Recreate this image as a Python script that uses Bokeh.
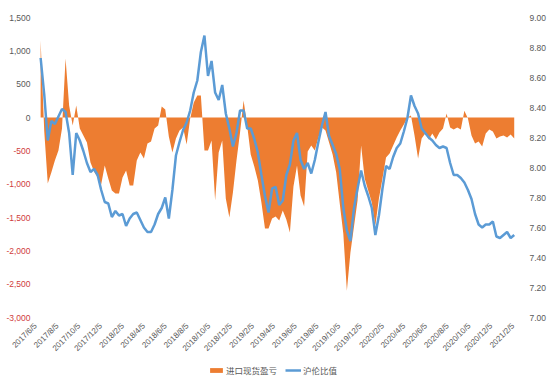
import math
import pandas as pd
from bokeh.plotting import figure
from bokeh.models import (Range1d, LinearAxis, FixedTicker, Legend, LegendItem,
                          NumeralTickFormatter)
from bokeh.core.properties import value
from bokeh.embed import file_html
from bokeh.resources import INLINE

# ---------------- data ----------------
start_date = "2017-06-05"
step = "10D"

# 进口现货盈亏 (left axis)
pnl = [1155, -195, -990, -825, -645, -495, -165, 885, 180, -120,
       180, -165, -270, -375, -675, -810, -900, -1005, -720, -915,
       -1095, -1140, -1140, -900, -795, -1020, -1020, -645, -525, -615,
       -390, -360, -165, -120, 165, 120, -285, -525, -315, -195,
       -150, -405, -15, 225, 330, 330, -495, -495, -345, -1245,
       -525, -345, -1215, -1500, -1125, -645, -225, 255, -120, -555,
       -735, -945, -1275, -1665, -1665, -1515, -1485, -1545, -1395, -1530,
       -1725, -1035, -720, -1170, -1335, -510, -420, -495, -300, -150,
       -195, -375, -555, -825, -1290, -1740, -2600, -2025, -1635, -1245,
       -420, -915, -1095, -1275, -1620, -1215, -915, -600, -540, -420,
       -300, -195, -105, 0, 30, -270, -615, -315, -240, -330,
       -240, -330, -225, -165, 60, -150, -180, -150, -180, 100,
       -15, -270, -390, -360, -435, -240, -180, -210, -315, -285,
       -270, -300, -255, -315]

# 沪伦比值 (right axis)
ratio = [8.73, 8.49, 8.18, 8.31, 8.29, 8.34, 8.39, 8.37, 8.23, 7.95,
         8.23, 8.18, 8.11, 8.03, 7.97, 7.99, 7.95, 7.85, 7.77, 7.76,
         7.67, 7.71, 7.68, 7.69, 7.61, 7.66, 7.69, 7.70, 7.65, 7.60,
         7.57, 7.57, 7.62, 7.69, 7.73, 7.80, 7.66, 7.85, 8.08, 8.17,
         8.25, 8.30, 8.38, 8.50, 8.58, 8.77, 8.88, 8.61, 8.71, 8.50,
         8.45, 8.55, 8.36, 8.26, 8.14, 8.23, 8.38, 8.38, 8.26, 8.26,
         8.19, 8.10, 7.95, 7.81, 7.70, 7.86, 7.87, 7.75, 7.78, 7.95,
         8.02, 8.18, 8.23, 8.05, 7.99, 8.03, 7.96, 8.05, 8.17, 8.28,
         8.37, 8.21, 8.15, 8.09, 7.99, 7.73, 7.58, 7.51, 7.73, 7.86,
         7.98, 7.88, 7.81, 7.73, 7.55, 7.68, 7.86, 8.01, 7.99, 8.07,
         8.13, 8.16, 8.24, 8.33, 8.48, 8.41, 8.36, 8.26, 8.23, 8.20,
         8.18, 8.15, 8.13, 8.14, 8.13, 8.03, 7.95, 7.95, 7.93, 7.90,
         7.85, 7.79, 7.69, 7.62, 7.60, 7.62, 7.62, 7.64, 7.54, 7.53,
         7.55, 7.57, 7.53, 7.55]

x_tick_labels = ["2017/6/5", "2017/8/5", "2017/10/5", "2017/12/5",
                 "2018/2/5", "2018/4/5", "2018/6/5", "2018/8/5", "2018/10/5", "2018/12/5",
                 "2019/2/5", "2019/4/5", "2019/6/5", "2019/8/5", "2019/10/5", "2019/12/5",
                 "2020/2/5", "2020/4/5", "2020/6/5", "2020/8/5", "2020/10/5", "2020/12/5",
                 "2021/2/5"]

left_ticks = [1500, 1000, 500, 0, -500, -1000, -1500, -2000, -2500, -3000]
right_ticks = [7.0, 7.2, 7.4, 7.6, 7.8, 8.0, 8.2, 8.4, 8.6, 8.8, 9.0]

series_names = ["进口现货盈亏", "沪伦比值"]

# ---------------- layout constants ----------------
GREY = "#595959"
RED = "#D03C3C"
FONT = "Liberation Sans"
ORANGE = "#ED7D31"
BLUE = "#5B9BD5"

PLOT_W, PLOT_H = 480, 300     # pixel size of the value area
PAD_L, PAD_T, PAD_B = 38, 17, 63   # room inside the frame for the value and date labels
L_LO, L_HI = -3000, 1500
R_LO, R_HI = 7.0, 9.0
l_per_px = (L_HI - L_LO) / PLOT_H
r_per_px = (R_HI - R_LO) / PLOT_H

# ---------------- build ----------------
dates = pd.date_range(start_date, periods=len(ratio), freq=step)
tick_dates = [pd.to_datetime(s, format="%Y/%m/%d") for s in x_tick_labels]

x_start = pd.Timestamp("2017-05-30")
x_end = pd.Timestamp("2021-02-06")
t_per_px = (x_end - x_start) / PLOT_W

p = figure(frame_width=PAD_L + PLOT_W, frame_height=PAD_T + PLOT_H + PAD_B,
           x_axis_type="datetime",
           x_range=Range1d(x_start - PAD_L * t_per_px, x_end),
           y_range=Range1d(L_LO - PAD_B * l_per_px, L_HI + PAD_T * l_per_px),
           output_backend="svg", toolbar_location=None,
           min_border_left=0, min_border_right=32, min_border_top=0,
           min_border_bottom=7)
p.outline_line_color = None
p.xgrid.visible = False
p.ygrid.visible = False
p.xaxis.visible = False
p.yaxis.visible = False

p.extra_y_ranges = {"ratio": Range1d(R_LO - PAD_B * r_per_px, R_HI + PAD_T * r_per_px)}

area = p.varea(x=dates, y1=0, y2=pnl, fill_color=ORANGE, fill_alpha=1.0)
line = p.line(x=dates, y=ratio, y_range_name="ratio", line_color=BLUE, line_width=2.5)

# date labels under the value area, rotated 45 degrees
p.text(x=tick_dates, y=[L_LO - 7 * l_per_px] * len(tick_dates), text=x_tick_labels,
       angle=math.pi / 4, text_align="right", text_baseline="middle", x_offset=-5,
       text_font=value(FONT), text_font_size=value("8px"), text_color=GREY)

# left value labels: negatives in red
left_labels = ["{:,}".format(v) for v in left_ticks]
left_colors = [RED if v < 0 else GREY for v in left_ticks]
p.text(x=[x_start - 8 * t_per_px] * len(left_ticks), y=left_ticks, text=left_labels,
       text_align="right", text_baseline="middle", text_color=left_colors,
       text_font=value(FONT), text_font_size=value("8.5px"))

# right axis
ra = LinearAxis(y_range_name="ratio", ticker=FixedTicker(ticks=right_ticks),
                formatter=NumeralTickFormatter(format="0.00"))
ra.axis_line_color = None
ra.major_tick_line_color = None
ra.minor_tick_line_color = None
ra.major_label_standoff = 5
ra.major_label_text_color = GREY
ra.major_label_text_font = FONT
ra.major_label_text_font_size = "8.5px"
p.add_layout(ra, "right")

legend = Legend(items=[LegendItem(label=series_names[0], renderers=[area]),
                       LegendItem(label=series_names[1], renderers=[line])],
                orientation="horizontal", location=(208, 4))
legend.border_line_color = None
legend.background_fill_alpha = 0
legend.label_text_font = "Noto Sans CJK SC"
legend.label_text_font_size = "8.5px"
legend.label_text_color = GREY
legend.glyph_width = 16
legend.glyph_height = 6
legend.spacing = 8
legend.padding = 0
legend.margin = 0
legend.label_standoff = 2
p.add_layout(legend, "center")

open("out.html", "w").write(file_html(p, INLINE))
